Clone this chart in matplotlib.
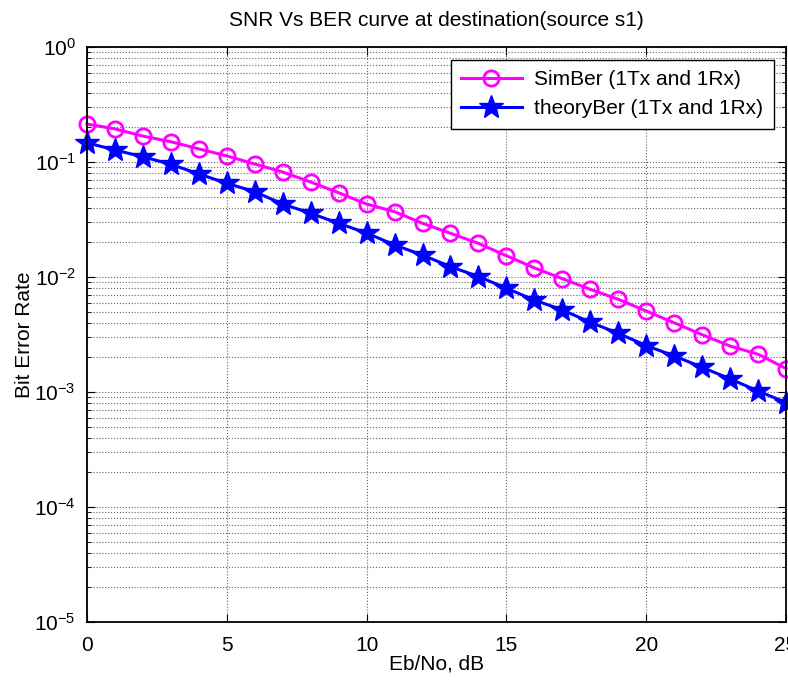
import numpy as np
import matplotlib
matplotlib.use('Agg')
import matplotlib.pyplot as plt
from matplotlib.ticker import LogLocator, NullFormatter, FuncFormatter

plt.rcParams['font.family'] = ['Liberation Sans', 'DejaVu Sans']
plt.rcParams['mathtext.fontset'] = 'custom'
plt.rcParams['mathtext.rm'] = 'Liberation Sans'
plt.rcParams['mathtext.it'] = 'Liberation Sans'

# Eb/No in dB
ebno = np.arange(0, 26)

# values
simBer = [0.214, 0.194, 0.168, 0.150, 0.130, 0.113, 0.096, 0.0818, 0.067, 0.054,
          0.0431, 0.037, 0.0293, 0.024, 0.0196, 0.0153, 0.0120, 0.00967, 0.00781, 0.0064,
          0.00506, 0.0040, 0.00315, 0.00251, 0.00213, 0.0016]
theoryBer = [0.147, 0.127, 0.111, 0.0955, 0.0787, 0.0653, 0.0552, 0.0431, 0.0358, 0.0293,
             0.0241, 0.019, 0.0155, 0.0123, 0.0101, 0.00798, 0.0063, 0.00517, 0.00404, 0.00324,
             0.00253, 0.00206, 0.00164, 0.0013, 0.00102, 0.00081]


def decade_label(v, pos):
    e = int(round(np.log10(v)))
    return '$10^{\\mathregular{%d}}$' % e


fig = plt.figure(figsize=(7.88, 6.81), dpi=100)
ax = fig.add_axes([87 / 788, 59 / 681, (786 - 87) / 788, (622 - 47) / 681])

ax.semilogy(ebno, simBer, color='#ff00ff', linewidth=2.2, marker='o', markersize=11,
            markerfacecolor='none', markeredgewidth=2, label='SimBer (1Tx and 1Rx)', clip_on=False)
ax.semilogy(ebno, theoryBer, color='#0000ff', linewidth=2.2, marker='*', markersize=18,
            label='theoryBer (1Tx and 1Rx)', clip_on=False)

ax.set_xlim(0, 25)
ax.set_ylim(1e-5, 1)
ax.set_xticks([0, 5, 10, 15, 20, 25])
ax.yaxis.set_major_locator(LogLocator(base=10, numticks=10))
ax.yaxis.set_major_formatter(FuncFormatter(decade_label))
ax.yaxis.set_minor_locator(LogLocator(base=10, subs=np.arange(2, 10), numticks=20))
ax.yaxis.set_minor_formatter(NullFormatter())

ax.grid(True, which='major', color='#666666', linestyle=':', linewidth=0.8)
ax.grid(True, which='minor', axis='y', color='#666666', linestyle=':', linewidth=0.8)
ax.tick_params(which='both', direction='in', top=True, right=True, labelsize=15)
ax.tick_params(axis='x', which='major', pad=10)
ax.tick_params(axis='y', which='major', pad=8)
ax.tick_params(which='major', length=6)
ax.tick_params(which='minor', length=3)
for s in ax.spines.values():
    s.set_linewidth(1.3)

ax.set_title('SNR Vs BER curve at destination(source s1)', fontsize=15, pad=15)
ax.set_xlabel('Eb/No, dB', fontsize=15, labelpad=0)
ax.set_ylabel('Bit Error Rate', fontsize=15, labelpad=0)

leg = ax.legend(loc='upper right', fontsize=15, fancybox=False, framealpha=1,
                edgecolor='black', handlelength=2.9, borderaxespad=0.6,
                labelspacing=0.5, borderpad=0.5, handletextpad=0.6)
leg.get_frame().set_linewidth(1.0)

fig.savefig('out.png', dpi=100)
